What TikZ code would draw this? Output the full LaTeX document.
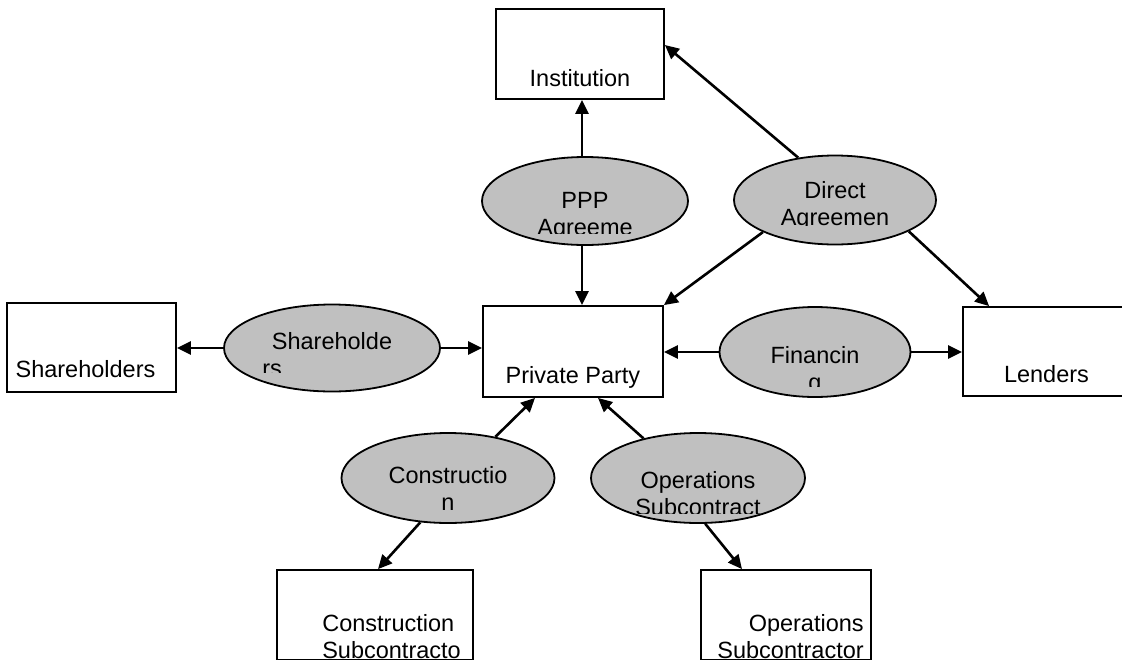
\documentclass[tikz,border=0pt]{standalone}
\usepackage{fontspec}
\setmainfont{Liberation Sans}
\usetikzlibrary{shapes.geometric, arrows.meta}
\definecolor{dealgray}{RGB}{192,192,192}
\tikzset{
  party/.style={
    rectangle,
    line width=1.8pt,
    draw=black,
    inner sep=0pt
    },
  deal/.style={
    ellipse,
    line width=1.8pt,
    draw=black,
    fill=dealgray,
    inner sep=0pt
    },
  word/.style={
    inner sep=0pt,
    font=\fontsize{23.5}{27}\selectfont
    },
  arrow/.style={line width=2.6pt,->,>={Triangle[length=14pt,width=13pt]}},
}
% text of an agreement, cut off below like the text frame
\newcommand{\dealtext}[4]{%
  \begin{scope}
    \clip ([xshift=-120pt, yshift=40pt]#1.center) rectangle ([xshift=120pt, yshift=#3pt]#1.center);
    \node (#1-l) [word, anchor=base, align=center] at ([yshift=#2pt]#1.center) {#4};
  \end{scope}}

\begin{document}
\begin{tikzpicture}[x=1pt, y=-1pt]
\useasboundingbox (0,0) rectangle (1122,659);
\clip (0,0) rectangle (1122,659);

% parties
\node (inst) [party, minimum width=168pt, minimum height=90pt] at (580,54) {};
\node (pp) [party, minimum width=180pt, minimum height=91pt] at (573,351.5) {};
\node (shb) [party, minimum width=169pt, minimum height=89pt] at (91.5,347.5) {};
\node (lend) [party, minimum width=167pt, minimum height=89pt] at (1046.5,351.5) {};
\node (csub) [party, minimum width=196pt, minimum height=90pt] at (375,615) {};
\node (osub) [party, minimum width=170pt, minimum height=90pt] at (786,615) {};

\node (inst-l) [word, anchor=base] at ([yshift=13pt]inst.south) {Institution};
\node (pp-l) [word, anchor=base] at ([yshift=14pt]pp.south) {Private Party};
\node (shb-l) [word, anchor=base] at ([xshift=-6pt, yshift=15pt]shb.south) {Shareholders};
\node (lend-l) [word, anchor=base] at ([yshift=14pt]lend.south) {Lenders};
\node (csub-l) [word, anchor=base west, align=left] at ([xshift=46pt, yshift=-89pt]csub.north west) {Construction\\Subcontracto};
\node (osub-l) [word, anchor=base east, align=right] at ([xshift=-8pt, yshift=-89pt]osub.north east) {Operations\\Subcontractor};

% agreements
\node (ppp) [deal, minimum width=206pt, minimum height=88pt] at (585,201) {};
\node (dir) [deal, minimum width=202pt, minimum height=89pt] at (835,200) {};
\node (shl) [deal, minimum width=216pt, minimum height=87pt] at (332,348) {};
\node (fin) [deal, minimum width=191pt, minimum height=90pt] at (815,352) {};
\node (con) [deal, minimum width=213pt, minimum height=90pt] at (448,478) {};
\node (ops) [deal, minimum width=214pt, minimum height=90pt] at (698,478) {};

\dealtext{ppp}{-34}{-32}{PPP\\Agreeme}
\dealtext{dir}{-25}{-25}{Direct\\Agreemen}
\dealtext{shl}{-28}{-24}{Shareholde\\rs\hspace*{5.1em}}
\dealtext{fin}{-38}{-34}{Financin\\g}
\dealtext{con}{-32}{-34}{Constructio\\n}
\dealtext{ops}{-37}{-35}{Operations\\Subcontract}

% connectors
\draw[arrow] ([xshift=-3pt]ppp.north) -- ([xshift=2pt]inst.south);
\draw[arrow] ([xshift=-3pt]ppp.south) -- ([xshift=9pt]pp.north);
\draw[arrow] (dir.131) -- ([yshift=9pt]inst.east);
\draw[arrow] (dir.204) -- (pp.north east);
\draw[arrow] (dir.-23) -- ([xshift=27pt]lend.north west);
\draw[arrow] (shl.west) -- (shl.west -| shb.east);
\draw[arrow] (shl.east) -- (shl.east -| pp.west);
\draw[arrow] (fin.west) -- (fin.west -| pp.east);
\draw[arrow] (fin.east) -- (fin.east -| lend.west);
\draw[arrow] (con.41) -- ([xshift=-38pt]pp.south);
\draw[arrow] (con.238) -- ([xshift=3pt]csub.north);
\draw[arrow] (ops.144) -- ([xshift=25pt]pp.south);
\draw[arrow] (ops.-81) -- ([xshift=-44pt]osub.north);
\end{tikzpicture}
\end{document}
